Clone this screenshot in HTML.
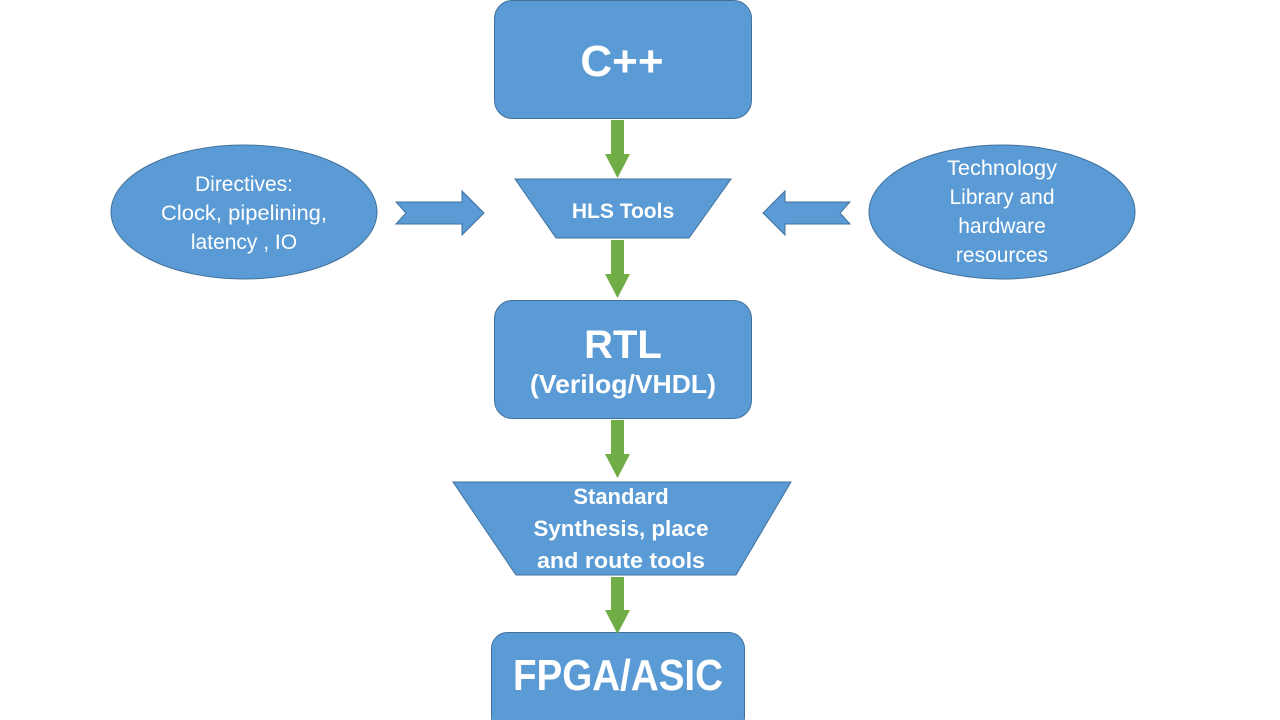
<!DOCTYPE html>
<html><head><meta charset="utf-8"><style>
html,body{margin:0;padding:0;background:#fff;width:1280px;height:720px;overflow:hidden}
svg text{font-family:"Liberation Sans",sans-serif;fill:#fff}
</style></head><body>
<svg width="1280" height="720" xmlns="http://www.w3.org/2000/svg">
<g fill="#5b9bd5" stroke="#41719c" stroke-width="1">
<rect x="494.5" y="0.5" width="257" height="118" rx="18"/>
<rect x="494.5" y="300.5" width="257" height="118" rx="18"/>
<rect x="491.5" y="632.5" width="253" height="100" rx="16"/>
<polygon points="515,179 731,179 689,238 556,238"/>
<polygon points="453,482 791,482 736,575 516,575"/>
<ellipse cx="244" cy="212" rx="133" ry="67"/>
<ellipse cx="1002" cy="212" rx="133" ry="67"/>
<polygon points="396,202 462,202 462,191 484,213 462,235 462,224 396,224 406,213"/>
<polygon points="850,202 785,202 785,191 763,213 785,235 785,224 850,224 840,213"/>
</g>
<g fill="#70ad47">
<polygon points="611,120 624,120 624,154 630,154 617.5,178 605,154 611,154"/>
<polygon points="611,240 624,240 624,274 630,274 617.5,298 605,274 611,274"/>
<polygon points="611,420 624,420 624,454 630,454 617.5,478 605,454 611,454"/>
<polygon points="611,577 624,577 624,610 630,610 617.5,634 605,610 611,610"/>
</g>
<g text-anchor="middle" font-weight="bold">
<text x="622" y="76" font-size="44">C++</text>
<text x="623" y="218" font-size="21">HLS Tools</text>
<text x="623" y="358" font-size="40">RTL</text>
<text x="623" y="393" font-size="26" textLength="186" lengthAdjust="spacingAndGlyphs">(Verilog/VHDL)</text>
<text x="621" y="504" font-size="22">Standard</text>
<text x="621" y="536" font-size="22" textLength="175" lengthAdjust="spacingAndGlyphs">Synthesis, place</text>
<text x="621" y="568" font-size="22" textLength="168" lengthAdjust="spacingAndGlyphs">and route tools</text>
<text x="618" y="690" font-size="44" textLength="210" lengthAdjust="spacingAndGlyphs">FPGA/ASIC</text>
</g>
<g text-anchor="middle" font-size="21">
<text x="244" y="191">Directives:</text>
<text x="244" y="220" textLength="166" lengthAdjust="spacingAndGlyphs">Clock, pipelining,</text>
<text x="244" y="249">latency , IO</text>
<text x="1002" y="175" textLength="110" lengthAdjust="spacingAndGlyphs">Technology</text>
<text x="1002" y="204">Library and</text>
<text x="1002" y="233">hardware</text>
<text x="1002" y="262">resources</text>
</g>
</svg>
</body></html>
